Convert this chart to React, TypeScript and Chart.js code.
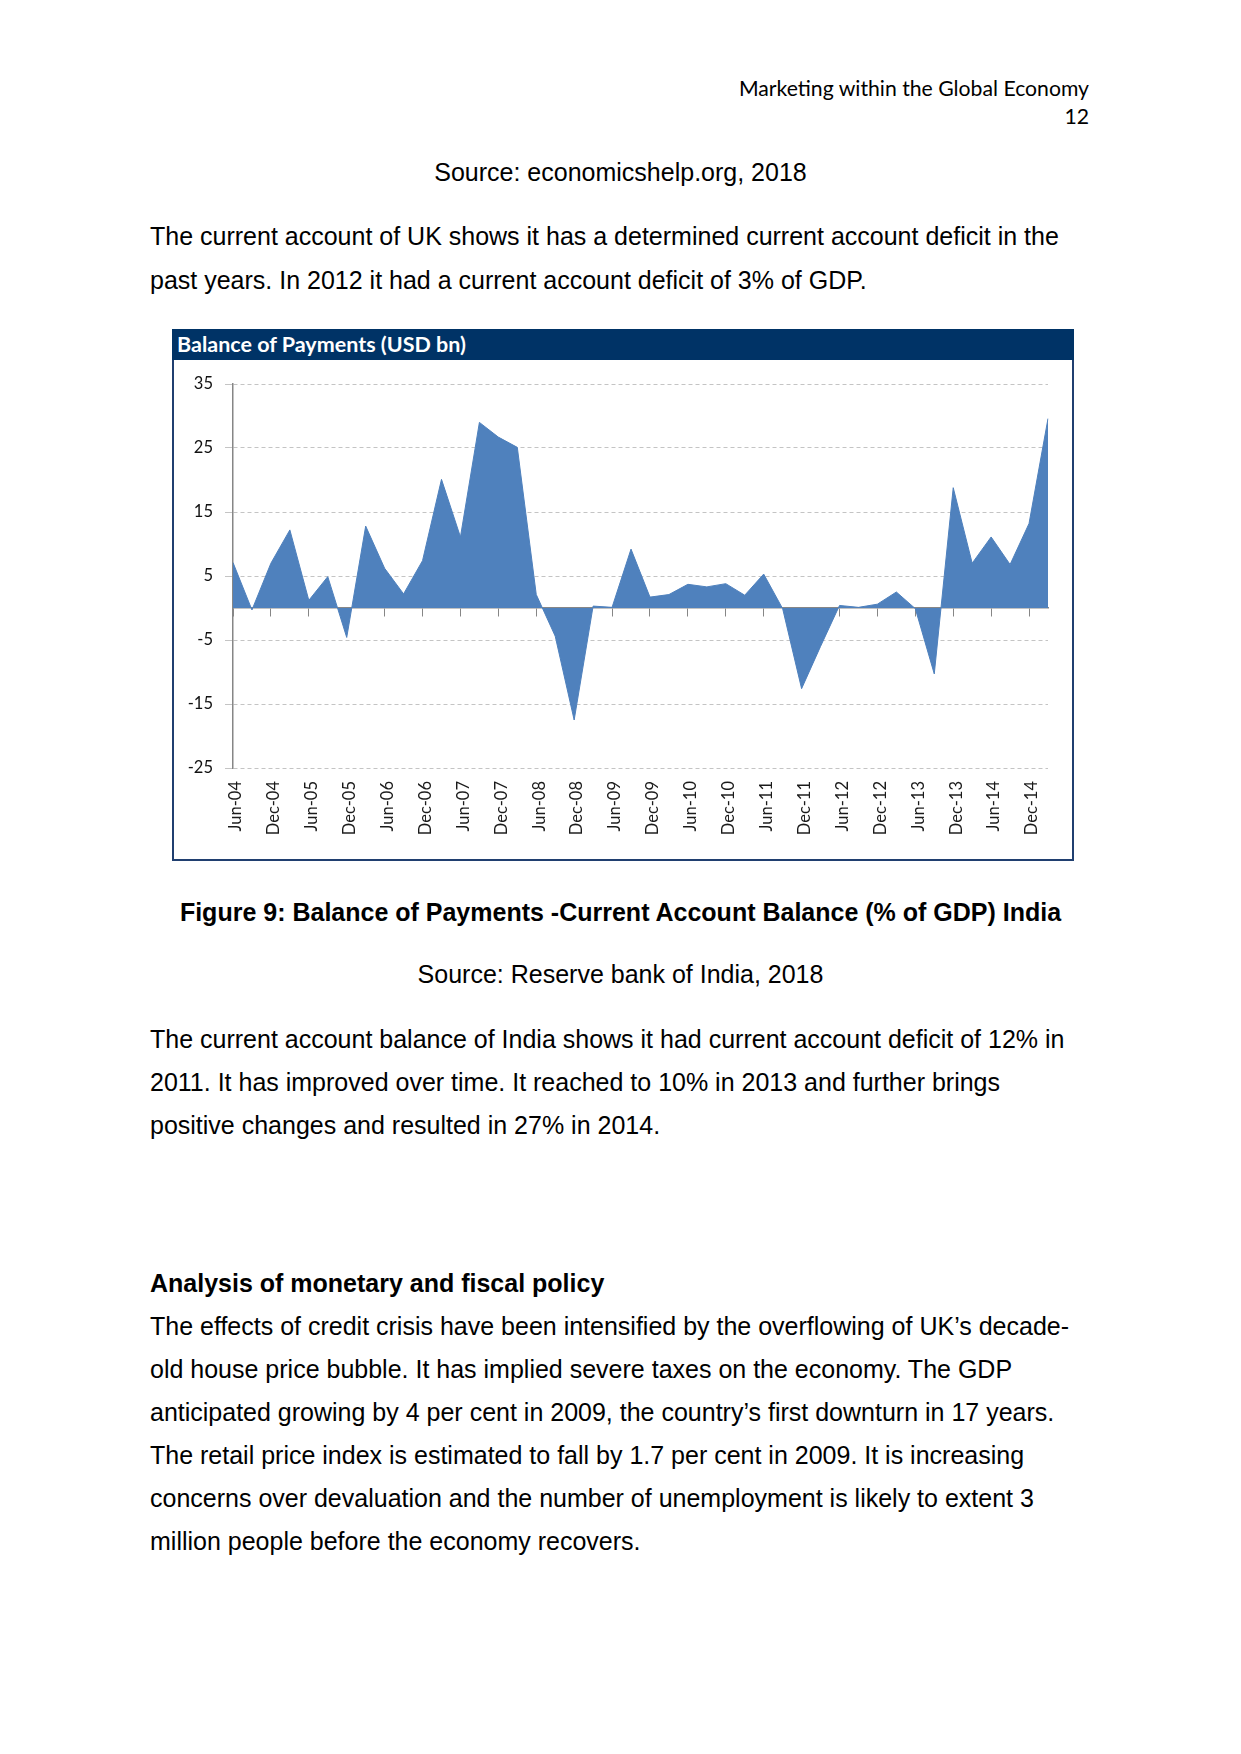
import React, { useEffect, useRef } from "react";
import { Chart, registerables } from "chart.js";

Chart.register(...registerables);

// Quarterly categories (Jun-04 .. Mar-15); every other one is labelled
const quarters = [
  "Jun-04", "Sep-04", "Dec-04", "Mar-05", "Jun-05", "Sep-05", "Dec-05", "Mar-06",
  "Jun-06", "Sep-06", "Dec-06", "Mar-07", "Jun-07", "Sep-07", "Dec-07", "Mar-08",
  "Jun-08", "Sep-08", "Dec-08", "Mar-09", "Jun-09", "Sep-09", "Dec-09", "Mar-10",
  "Jun-10", "Sep-10", "Dec-10", "Mar-11", "Jun-11", "Sep-11", "Dec-11", "Mar-12",
  "Jun-12", "Sep-12", "Dec-12", "Mar-13", "Jun-13", "Sep-13", "Dec-13", "Mar-14",
  "Jun-14", "Sep-14", "Dec-14", "Mar-15",
];

// Balance of payments (USD bn)
const balance = [
  7.1, -0.3, 7.0, 12.2, 1.2, 4.9, -4.6, 12.8, 6.2, 2.2, 7.4, 20.1, 11.1, 29.0,
  26.7, 25.1, 2.1, -4.4, -17.5, 0.3, 0.1, 9.2, 1.7, 2.1, 3.7, 3.3, 3.8, 2.0,
  5.3, -0.1, -12.6, -6.0, 0.4, 0.1, 0.6, 2.5, -0.1, -10.3, 18.8, 7.0, 11.1,
  6.8, 13.2, 29.6,
];

const yMin = -25;
const yMax = 35;
const yStep = 10;

const chartTitle = "Balance of Payments (USD bn)";

const AXIS_GRAY = "#868686";
const FILL = "#4F81BD";

function BopChart() {
  const ref = useRef<HTMLCanvasElement | null>(null);
  useEffect(() => {
    if (!ref.current) return;
    const tickFont = { family: "Lato, 'Open Sans', sans-serif", size: 16.5 };
    const chart = new Chart(ref.current, {
      type: "line",
      data: {
        labels: quarters,
        datasets: [
          {
            data: balance,
            fill: "origin",
            backgroundColor: FILL,
            borderColor: FILL,
            borderWidth: 1,
            pointRadius: 0,
            tension: 0,
          },
        ],
      },
      options: {
        animation: false,
        responsive: false,
        maintainAspectRatio: false,
        layout: { padding: { top: 24, right: 24, left: 0, bottom: 0 } },
        plugins: {
          legend: { display: false },
          tooltip: { enabled: false },
          title: { display: false },
        },
        scales: {
          x: {
            type: "category",
            position: "bottom",
            grid: { display: false, drawTicks: false },
            border: { display: false },
            ticks: {
              autoSkip: false,
              maxRotation: 90,
              minRotation: 90,
              padding: 13,
              labelOffset: 3,
              color: "#1a1a1a",
              font: tickFont,
              callback: (_v: any, i: number) => (i % 2 === 0 ? quarters[i] : ""),
            },
            afterFit: (s: any) => {
              s.height = 91;
              s.paddingLeft = 0;
              s.paddingRight = 0;
            },
          },
          x0: {
            type: "category",
            position: { y: 0 },
            z: 1,
            grid: {
              drawOnChartArea: false,
              drawTicks: true,
              tickLength: 8,
              color: (ctx: any) => (ctx.index % 2 === 0 ? AXIS_GRAY : "rgba(0,0,0,0)"),
            },
            border: { display: true, color: AXIS_GRAY, width: 1.5 },
            ticks: { display: false, autoSkip: false },
            afterFit: (s: any) => {
              s.height = 0;
              s.paddingLeft = 0;
              s.paddingRight = 0;
            },
          },
          y: {
            min: yMin,
            max: yMax,
            ticks: {
              stepSize: yStep,
              padding: 12,
              color: "#111",
              font: tickFont,
            },
            grid: { color: "#c4c4c4", tickLength: 8, lineWidth: 1 },
            border: { display: true, color: AXIS_GRAY, width: 1.5, dash: [4, 3] },
            afterFit: (s: any) => {
              s.width = 59;
              s.paddingTop = 0;
              s.paddingBottom = 0;
            },
          },
        },
      },
    } as any);
    return () => chart.destroy();
  }, []);
  return (
    <canvas
      ref={ref}
      width={898}
      height={499}
      style={{ position: "absolute", left: 174, top: 360, width: 898, height: 499, display: "block" }}
    />
  );
}

const body: React.CSSProperties = {
  position: "absolute",
  fontFamily: "'Liberation Sans', Arial, sans-serif",
  fontSize: 25,
  lineHeight: "25px",
  whiteSpace: "nowrap",
  color: "#000",
};

function Line({ top, text, bold, center }: { top: number; text: string; bold?: boolean; center?: boolean }) {
  const style: React.CSSProperties = center
    ? { ...body, top, left: 0, width: 1241, textAlign: "center", fontWeight: bold ? "bold" : "normal" }
    : { ...body, top, left: 150, fontWeight: bold ? "bold" : "normal" };
  return <div style={style}>{text}</div>;
}

export default function App() {
  const header: React.CSSProperties = {
    position: "absolute",
    left: 0,
    width: 1089,
    textAlign: "right",
    fontFamily: "Lato, 'Open Sans', sans-serif",
    fontSize: 21.2,
    lineHeight: "22px",
    whiteSpace: "nowrap",
    color: "#000",
  };
  return (
    <div style={{ position: "absolute", left: 0, top: 0, width: 1241, height: 1754, background: "#fff" }}>
      <div style={{ ...header, top: 77 }}>Marketing within the Global Economy</div>
      <div style={{ ...header, top: 104.5 }}>12</div>

      <Line top={160} text="Source: economicshelp.org, 2018" center />
      <Line top={224} text="The current account of UK shows it has a determined current account deficit in the" />
      <Line top={268} text="past years. In 2012 it had a current account deficit of 3% of GDP." />

      <div
        style={{
          position: "absolute",
          left: 172,
          top: 329,
          width: 902,
          height: 532,
          boxSizing: "border-box",
          border: "2px solid #203f70",
        }}
      />
      <div
        style={{
          position: "absolute",
          left: 172,
          top: 329,
          width: 902,
          height: 31,
          background: "#003366",
          color: "#fff",
          fontFamily: "Lato, 'Open Sans', sans-serif",
          fontWeight: "bold",
          fontSize: 21.5,
          lineHeight: "31px",
          paddingLeft: 5,
          boxSizing: "border-box",
          whiteSpace: "nowrap",
        }}
      >
        {chartTitle}
      </div>
      <BopChart />

      <Line top={900} text="Figure 9: Balance of Payments -Current Account Balance (% of GDP) India" bold center />
      <Line top={962} text="Source: Reserve bank of India, 2018" center />
      <Line top={1026.5} text="The current account balance of India shows it had current account deficit of 12% in" />
      <Line top={1070} text="2011. It has improved over time. It reached to 10% in 2013 and further brings" />
      <Line top={1113} text="positive changes and resulted in 27% in 2014." />

      <Line top={1271} text="Analysis of monetary and fiscal policy" bold />
      <Line top={1313.5} text="The effects of credit crisis have been intensified by the overflowing of UK’s decade-" />
      <Line top={1357} text="old house price bubble. It has implied severe taxes on the economy. The GDP" />
      <Line top={1400} text="anticipated growing by 4 per cent in 2009, the country’s first downturn in 17 years." />
      <Line top={1443} text="The retail price index is estimated to fall by 1.7 per cent in 2009. It is increasing" />
      <Line top={1486} text="concerns over devaluation and the number of unemployment is likely to extent 3" />
      <Line top={1529} text="million people before the economy recovers." />
    </div>
  );
}
